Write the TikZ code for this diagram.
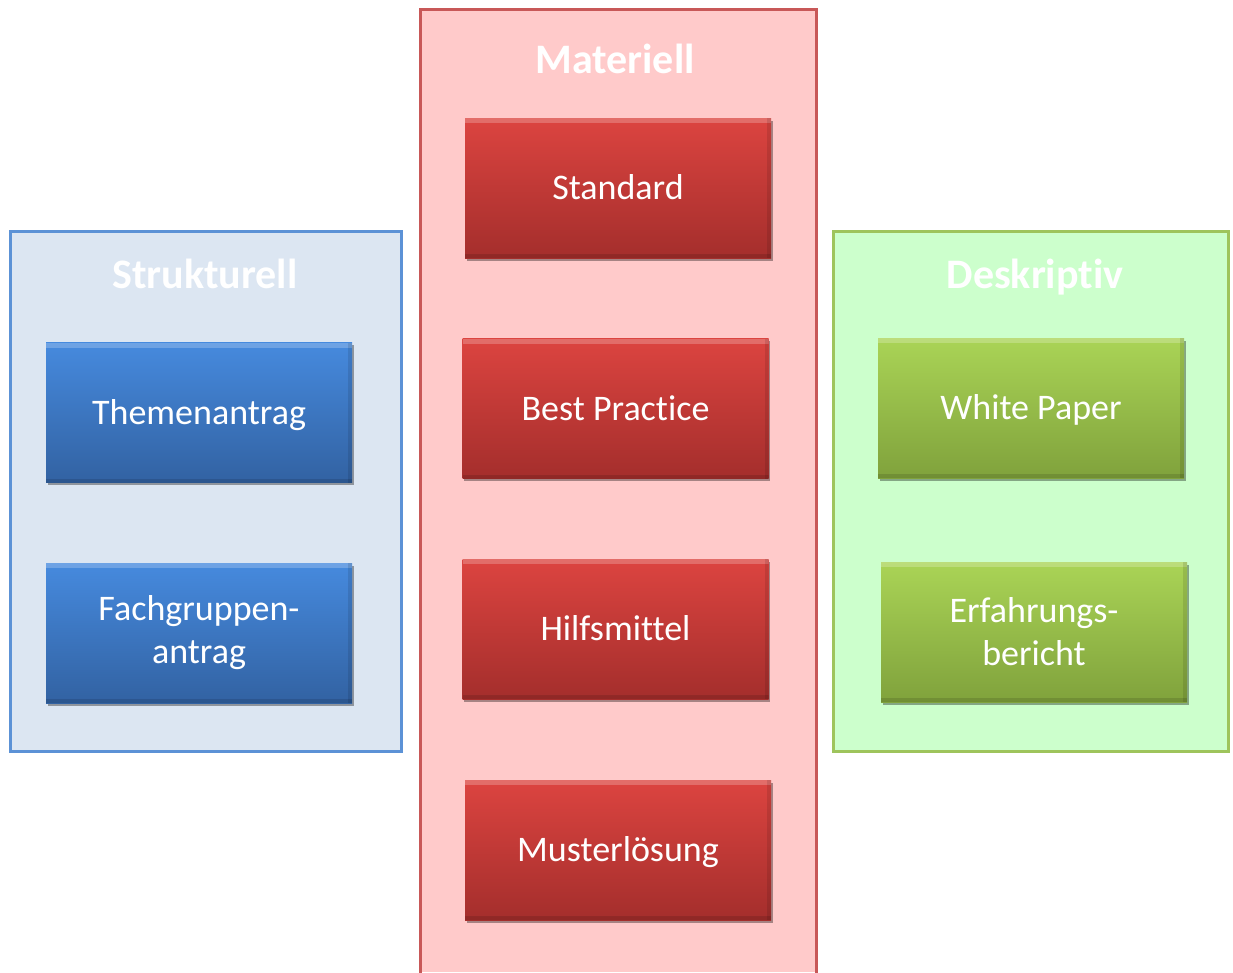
\documentclass[tikz,border=0pt]{standalone}
\usepackage{fontspec}
\setmainfont{Carlito}[Ligatures=NoCommon, RawFeature={-liga;-clig;-calt;-dlig}]
\usetikzlibrary{shadows}
\definecolor{bluefill}{RGB}{220,230,242}
\definecolor{blueline}{RGB}{92,146,214}
\definecolor{redfill}{RGB}{255,202,202}
\definecolor{redline}{RGB}{200,88,88}
\definecolor{greenfill}{RGB}{204,255,204}
\definecolor{greenline}{RGB}{158,196,92}
\definecolor{bTop}{RGB}{70,138,222}
\definecolor{bBot}{RGB}{50,98,162}
\definecolor{rTop}{RGB}{220,68,64}
\definecolor{rBot}{RGB}{164,46,44}
\definecolor{gTop}{RGB}{170,212,86}
\definecolor{gBot}{RGB}{128,162,60}
\begin{document}
\begin{tikzpicture}[x=1pt,y=-1pt,
  panelbox/.style={rectangle, line width=3pt, inner sep=0pt},
  header/.style={anchor=base, text=white, font=\fontsize{42}{50}\selectfont\bfseries},
  item/.style={rectangle, inner sep=0pt, minimum width=306pt, minimum height=140pt,
    text=white, align=center, font=\fontsize{36}{43}\selectfont,
    text height=23pt, text depth=0pt,
    drop shadow={shadow xshift=1.5pt, shadow yshift=-2.5pt, opacity=0.35, fill=black},
    path picture={
      \fill[white,opacity=0.22] (path picture bounding box.north west) rectangle ([yshift=-5pt]path picture bounding box.north east);
      \fill[black,opacity=0.10] ([xshift=-4pt]path picture bounding box.north east) rectangle (path picture bounding box.south east);
      \fill[black,opacity=0.12] (path picture bounding box.south west) rectangle ([yshift=4pt]path picture bounding box.south east);
    }},
  twoline/.style={text height={}, text depth={}},
  blueitem/.style={item, top color=bTop, bottom color=bBot},
  reditem/.style={item, top color=rTop, bottom color=rBot},
  greenitem/.style={item, top color=gTop, bottom color=gBot}]
\useasboundingbox (0,0) rectangle (1233,972);

% panels
\node[panelbox, draw=blueline, fill=bluefill, minimum width=391pt, minimum height=520pt] (lpanel) at (206,491.5) {};
\node[panelbox, draw=greenline, fill=greenfill, minimum width=395pt, minimum height=520pt] (rpanel) at (1031,491.5) {};
\fill[redfill] (420.5,9.5) rectangle (816.5,972);
\draw[redline, line width=3pt] (420.5,973) -- (420.5,9.5) -- (816.5,9.5) -- (816.5,973);

% headers
\node[header] (hs) at (205,288) {Strukturell};
\node[header] (hm) at (615,73) {Materiell};
\node[header] (hd) at (1035,288) {Deskriptiv};

% boxes
\node[blueitem] (themen) at (199,412.5) {Themenantrag};
\node[blueitem, twoline] (fach) at (199,633) {Fachgruppen-\\antrag};
\node[reditem] (standard) at (618,188) {Standard};
\node[reditem] (best) at (615.5,408.5) {Best Practice};
\node[reditem] (hilfs) at (615.5,629) {Hilfsmittel};
\node[reditem] (muster) at (618,850) {Musterlösung};
\node[greenitem] (white) at (1031,408) {White Paper};
\node[greenitem, twoline] (erfahr) at (1034,632) {Erfahrungs-\\bericht};
\end{tikzpicture}
\end{document}
